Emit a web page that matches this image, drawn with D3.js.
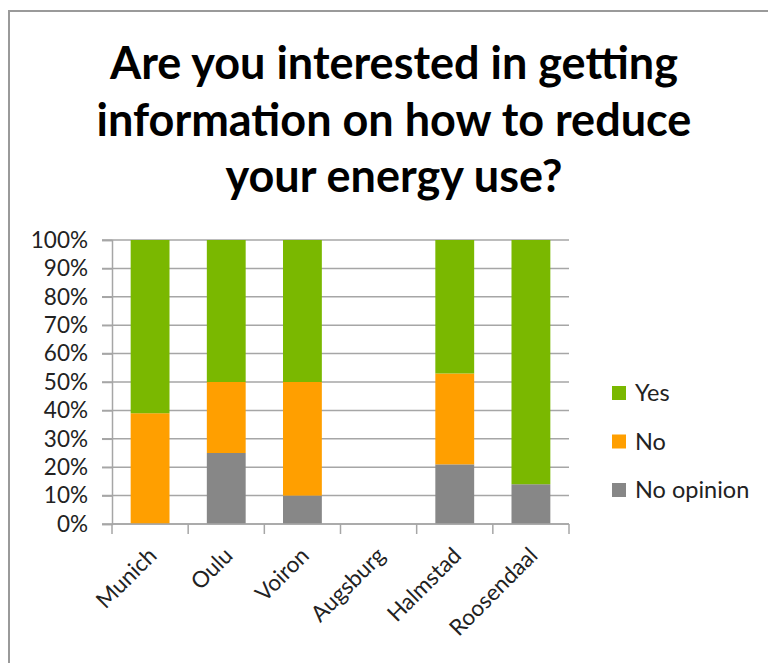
<!DOCTYPE html>
<html><head><meta charset="utf-8">
<script src="https://cdn.jsdelivr.net/npm/d3@7"></script>
<style>
html,body{margin:0;padding:0;background:#fff;}
text{font-family:Lato,"Open Sans",sans-serif;}
</style></head>
<body>
<svg id="chart" width="768" height="663"></svg>
<script>
const categories = ["Munich","Oulu","Voiron","Augsburg","Halmstad","Roosendaal"];
const noOpinion = [0, 25, 10, 0, 21, 14];
const no        = [39, 25, 40, 0, 32, 0];
const yes       = [61, 50, 50, 0, 47, 86];
const seriesNames = ["Yes","No","No opinion"];
const yTicks = [0,10,20,30,40,50,60,70,80,90,100];
const titleLines = ["Are you interested in getting","information on how to reduce","your energy use?"];
const colors = {"Yes":"#7AB800","No":"#FF9F00","No opinion":"#878787"};

(function(){
const svg = d3.select("#chart");
svg.append("rect").attr("x",9).attr("y",11).attr("width",780).attr("height",680)
  .attr("fill","none").attr("stroke","#9a9a9a").attr("stroke-width",2);

const title = svg.append("text").attr("text-anchor","middle").attr("font-weight","bold")
  .attr("fill","#000").attr("font-size",40);
titleLines.forEach((l,i)=>{
  title.append("tspan").attr("x",394).attr("y",79+i*56.5).text(l);
});
const w0 = title.select("tspan").node().getComputedTextLength();
title.attr("font-size", 40*568/w0);

const pLeft=112, pRight=569, pTop=240, pBottom=524;
const x = d3.scaleBand().domain(categories).range([pLeft,pRight]).paddingInner(0.49).paddingOuter(0.245);
const xb = d3.scaleBand().domain(categories).range([pLeft,pRight]);
const y = d3.scaleLinear().domain([0,100]).range([pBottom,pTop]);

svg.append("g").selectAll("line").data(yTicks).join("line")
  .attr("x1",pLeft-10).attr("x2",pRight).attr("y1",d=>y(d)).attr("y2",d=>y(d))
  .attr("stroke","#a6a6a6").attr("stroke-width",1.5);

const rows = categories.map((c,i)=>({cat:c,"No opinion":noOpinion[i],"No":no[i],"Yes":yes[i]}));
const stack = d3.stack().keys(["No opinion","No","Yes"])(rows);
svg.append("g").selectAll("g").data(stack).join("g").attr("fill",d=>colors[d.key])
  .selectAll("rect").data(d=>d).join("rect")
  .attr("x",d=>x(d.data.cat)).attr("width",x.bandwidth())
  .attr("y",d=>y(d[1])).attr("height",d=>y(d[0])-y(d[1]));

const yAxis = d3.axisLeft(y).tickValues(yTicks).tickFormat(d=>d+"%").tickSize(10).tickPadding(14);
const gy = svg.append("g").attr("transform",`translate(${pLeft},0)`).call(yAxis);
gy.select(".domain").attr("stroke","#a6a6a6").attr("stroke-width",1.5);
gy.selectAll(".tick line").attr("stroke","#a6a6a6").attr("stroke-width",1.5);
gy.selectAll("text").attr("font-size",22.5).attr("fill","#222").style("font-family","Lato, sans-serif");

const gx = svg.append("g").attr("transform",`translate(0,${pBottom})`);
gx.append("line").attr("x1",pLeft).attr("x2",pRight).attr("stroke","#a6a6a6").attr("stroke-width",1.5);
const bounds = categories.map(c=>xb(c)).concat([pRight]);
gx.selectAll("line.tk").data(bounds).join("line").attr("class","tk")
  .attr("x1",d=>d).attr("x2",d=>d).attr("y1",0).attr("y2",10)
  .attr("stroke","#a6a6a6").attr("stroke-width",1.5);
gx.selectAll("text").data(categories).join("text")
  .attr("text-anchor","end").attr("font-size",22.5).attr("fill","#222")
  .attr("transform",d=>`translate(${xb(d)+xb.bandwidth()/2+8},${33}) rotate(-45)`)
  .text(d=>d);

const lg = svg.append("g");
seriesNames.forEach((s,i)=>{
  const cy = 393 + i*48.5;
  lg.append("rect").attr("x",612).attr("y",cy-7).attr("width",14).attr("height",14).attr("fill",colors[s]);
  lg.append("text").attr("x",635).attr("y",cy+8).attr("font-size",23.5).attr("fill","#222").text(s);
});
})();
</script>
</body></html>
